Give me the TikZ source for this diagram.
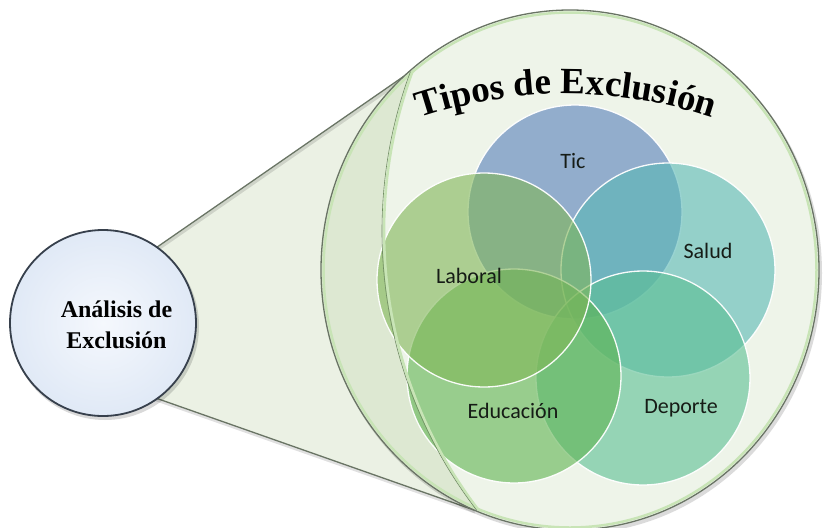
\documentclass[tikz,border=0pt]{standalone}
\usepackage{fontspec}
\setmainfont{Liberation Serif}
\newfontfamily\calib{Carlito}
\usetikzlibrary{decorations.text}
\definecolor{conefill}{RGB}{235,241,228}
\definecolor{bigfill}{RGB}{238,244,233}
\definecolor{bandfill}{RGB}{221,232,210}
\definecolor{outl}{RGB}{105,116,100}
\definecolor{rimgreen}{RGB}{200,228,182}
\definecolor{arcdark}{RGB}{112,140,98}
\definecolor{smallin}{RGB}{245,248,253}
\definecolor{smallout}{RGB}{224,233,246}
\definecolor{smalledge}{RGB}{55,64,76}
\definecolor{ticc}{RGB}{86,127,186}
\definecolor{saludc}{RGB}{88,184,181}
\definecolor{deportec}{RGB}{91,191,147}
\definecolor{educc}{RGB}{95,179,81}
\definecolor{laboralc}{RGB}{128,182,87}
\definecolor{txt}{RGB}{22,28,22}
\begin{document}
\begin{tikzpicture}[x=1pt,y=-1pt,
  vennc/.style={circle, minimum size=214pt, inner sep=0pt, fill opacity=0.6,
    draw=white, draw opacity=0.95, line width=1.3pt},
  vlabel/.style={font=\calib\fontsize{22}{24}\selectfont, text=txt, anchor=base, inner sep=0pt},
  conel/.style={draw=outl, line width=1.3pt},
  shadowl/.style={draw=black, opacity=0.12, line width=3pt}]
\useasboundingbox (0,0) rectangle (831,528);
\fill[white] (0,0) rectangle (831,528);

% cone
\coordinate (ct) at (150,252);
\coordinate (cA) at (410,72);
\coordinate (cC) at (474,510);
\coordinate (cb) at (150,396);
\fill[conefill] (ct) -- (cA) -- (cC) -- (cb) -- cycle;
\draw[shadowl] ([shift={(1,2)}]ct) -- ([shift={(1,2)}]cA);
\draw[shadowl] ([shift={(1,2)}]cb) -- ([shift={(1,2)}]cC);
\draw[conel] (ct) -- (cA);
\draw[conel] (cb) -- (cC);

% small circle
\fill[black, opacity=0.15] (105,326) circle[radius=94];
\node[circle, minimum size=186pt, inner sep=0pt, draw=smalledge, line width=1.8pt,
  inner color=smallin, outer color=smallout] (an) at (103,323) {};
\node[font=\bfseries\fontsize{24}{31}\selectfont, align=center, text=black, inner sep=0pt]
  (antext) at (116.5,325) {Análisis de\\Exclusión};

% big circle
\fill[black, opacity=0.14] (572,273) ellipse[x radius=250, y radius=261];
\fill[bigfill] (570,270) ellipse[x radius=249, y radius=260];
\begin{scope}
  \clip (570,270) ellipse[x radius=249, y radius=260];
  \fill[bandfill, even odd rule] (570,270) ellipse[x radius=249, y radius=260]
     (841,231) circle[radius=459];
  \draw[rimgreen, line width=2.5pt] (570,270) ellipse[x radius=246.5, y radius=257.5];
\end{scope}
\draw[outl, line width=1.3pt] (570,270) ellipse[x radius=249, y radius=260];

% venn circles
\node[vennc, fill=ticc] (tic) at (575,212) {};
\node[vennc, fill=saludc] (salud) at (668,270) {};
\node[vennc, fill=deportec] (deporte) at (643,378) {};
\node[vennc, fill=educc] (educ) at (514,376) {};
\node[vennc, fill=laboralc] (laboral) at (484,280) {};

% inner arc of the lens
\begin{scope}
  \clip (570,270) ellipse[x radius=248, y radius=259];
  \draw[rimgreen, line width=2.6pt] (843,231) circle[radius=459];
  \draw[arcdark, line width=0.6pt] (841,231) circle[radius=459];
\end{scope}

% labels
\node[vlabel] (tTic) at (573,168) {Tic};
\node[vlabel] (tSalud) at (708,258) {Salud};
\node[vlabel] (tLaboral) at (469,283) {Laboral};
\node[vlabel] (tEduc) at (513,418) {Educación};
\node[vlabel] (tDeporte) at (681,413) {Deporte};

% title
\path[decorate, decoration={text along path, text align=center,
  text={|\bfseries\fontsize{37}{40}\selectfont|Tipos de Exclusión}}]
  (378.9,133.8) arc[start angle=-114, end angle=-66, radius=460];
\end{tikzpicture}
\end{document}
